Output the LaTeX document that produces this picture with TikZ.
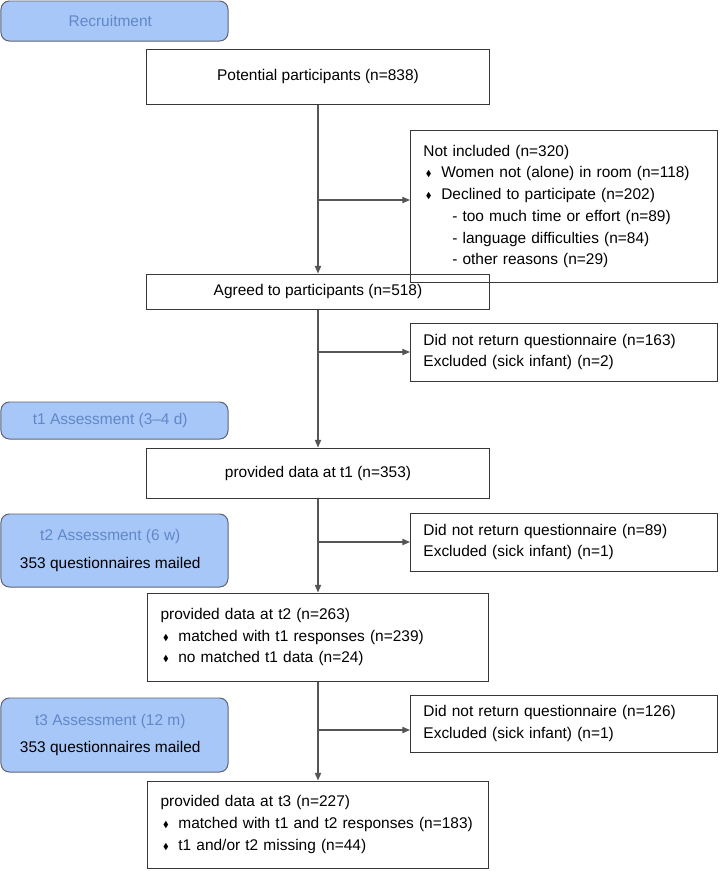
\documentclass[tikz,border=0pt]{standalone}
\usepackage{amssymb}
\usepackage{fontspec}
\setmainfont{Liberation Sans}
\usetikzlibrary{positioning,arrows.meta}

\definecolor{stagefill}{RGB}{168,199,249}
\definecolor{stagetext}{RGB}{96,136,200}
\definecolor{stageline}{RGB}{92,98,110}
\definecolor{flowline}{RGB}{55,55,55}
\definecolor{arrowline}{RGB}{85,85,85}

\newcommand{\itm}{\makebox[12.7pt][l]{\hspace{1.8pt}\raisebox{0.6pt}{\scalebox{0.55}{$\blacklozenge$}}}}
\newcommand{\sub}{\hspace*{20.5pt}- }
\newcommand{\lft}{\hspace*{-6pt}}

\begin{document}
\begin{tikzpicture}[x=0.025cm, y=-0.025cm,
  font=\fontsize{11}{15.5}\selectfont,
  flowbox/.style={draw=flowline, line width=0.7pt, inner xsep=9.2pt, inner ysep=0pt},
  mainbox/.style={flowbox, minimum width=8.55cm, align=center},
  listbox/.style={flowbox, text width=224pt, align=left},
  sidebox/.style={flowbox, text width=199.9pt, align=left},
  stagebox/.style={draw=stageline, line width=0.7pt, fill=stagefill, rounded corners=6pt,
    minimum width=5.675cm, align=center, text=stagetext},
  arr/.style={draw=arrowline, line width=0.9pt, -{Triangle[length=5.5pt,width=4.5pt]}}]

\useasboundingbox (0,0) rectangle (720,871);

\def\xm{318}
\def\xs{564}
\def\xl{114.5}

% stages on the left
\node[stagebox, minimum height=1.0cm]   (rec)  at (\xl, 21)    {\lft Recruitment};
\node[stagebox, minimum height=0.925cm] (ast1) at (\xl, 420.5) {\lft t1 Assessment (3--4 d)};
\node[stagebox, minimum height=1.825cm] (ast2) at (\xl, 550.5)
  {\lft t2 Assessment (6 w)\\[4pt]\lft\textcolor{black}{353 questionnaires mailed}};
\node[stagebox, minimum height=1.85cm]  (ast3) at (\xl, 735)
  {\lft t3 Assessment (12 m)\\[4pt]\lft\textcolor{black}{353 questionnaires mailed}};

% main column
\node[mainbox, minimum height=1.375cm] (pot)    at (\xm, 76.5)  {Potential participants (n=838)};
\node[mainbox, minimum height=0.875cm] (agreed) at (\xm, 291.5) {Agreed to participants (n=518)};
\node[mainbox, minimum height=1.25cm]  (dat1)   at (\xm, 473)   {provided data at t1 (n=353)};
\node[listbox, minimum height=2.2cm]   (dat2)   at (\xm, 637)
  {provided data at t2 (n=263)\\
   \itm matched with t1 responses (n=239)\\
   \itm no matched t1 data (n=24)};
\node[listbox, minimum height=2.175cm] (dat3)   at (\xm, 824.5)
  {provided data at t3 (n=227)\\
   \itm matched with t1 and t2 responses (n=183)\\
   \itm t1 and/or t2 missing (n=44)};

% drop-outs on the right
\node[sidebox, minimum height=3.775cm] (notinc) at (\xs, 206.5)
  {Not included (n=320)\\
   \itm Women not (alone) in room (n=118)\\
   \itm Declined to participate (n=202)\\
   \sub too much time or effort (n=89)\\
   \sub language difficulties (n=84)\\
   \sub other reasons (n=29)};
\node[sidebox, minimum height=1.45cm]  (lost1)  at (\xs, 352)
  {Did not return questionnaire (n=163)\\Excluded (sick infant) (n=2)};
\node[sidebox, minimum height=1.45cm]  (lost2)  at (\xs, 542)
  {Did not return questionnaire (n=89)\\Excluded (sick infant) (n=1)};
\node[sidebox, minimum height=1.425cm] (lost3)  at (\xs, 723.5)
  {Did not return questionnaire (n=126)\\Excluded (sick infant) (n=1)};

\coordinate (j1) at (\xm, 200);
\coordinate (j4) at (\xm, 730);

\draw[arr] (pot) -- (agreed);
\draw[arr] (agreed) -- (dat1);
\draw[arr] (dat1) -- (dat2.north -| dat1.south);
\draw[arr] (dat2.south -| dat1.south) -- (dat3.north -| dat1.south);

\draw[arr] (j1) -- (j1 -| notinc.west);
\draw[arr] (agreed.south |- lost1.west) -- (lost1.west);
\draw[arr] (dat1.south |- lost2.west) -- (lost2.west);
\draw[arr] (j4) -- (j4 -| lost3.west);

\end{tikzpicture}
\end{document}
